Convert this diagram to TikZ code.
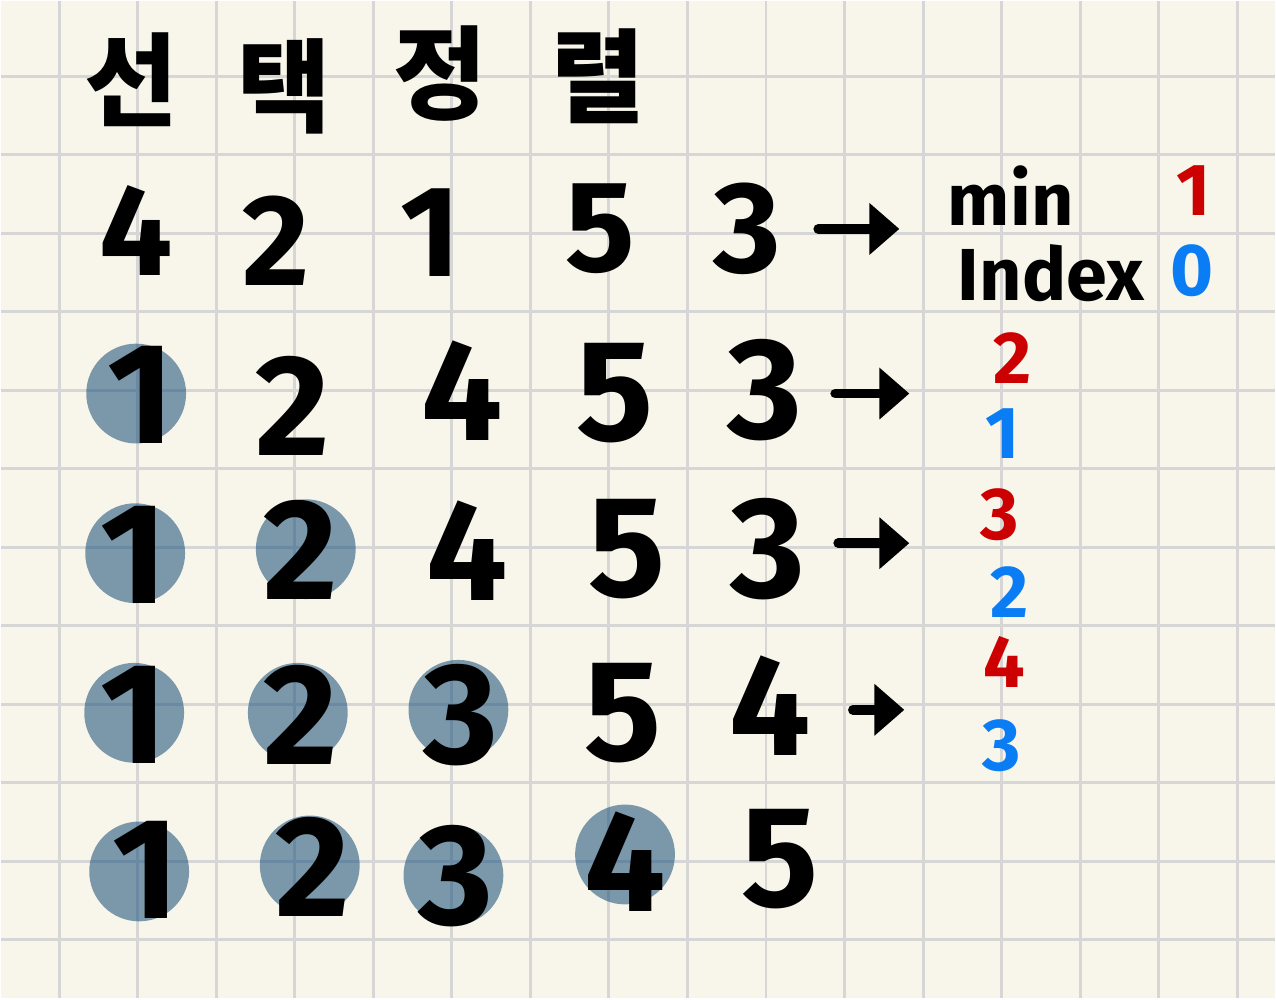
\documentclass[tikz,border=0pt]{standalone}
\usepackage{fontspec}
\usepackage{tikz}
\usetikzlibrary{arrows.meta}
\setmainfont{Fira Sans}
\newfontfamily\krfont{Noto Sans CJK KR}
\definecolor{bgpaper}{rgb}{0.973,0.965,0.918}
\definecolor{gridgray}{rgb}{0.84,0.84,0.845}
\definecolor{hlblue}{rgb}{0.075,0.294,0.467}
\definecolor{penred}{rgb}{0.8,0.,0.}
\definecolor{penblue}{rgb}{0.04,0.49,0.96}

\begin{document}
\begin{tikzpicture}[x=0.01cm,y=-0.01cm,>={Triangle[length=0.3cm,width=0.5cm]},
    gridline/.style={line width=0.85pt,color=gridgray},
    hl/.style={circle,fill=hlblue,fill opacity=0.55,minimum size=1cm,inner sep=0pt},
    rowbig/.style={font=\fontsize{41}{41}\selectfont\bfseries,minimum width=0.8cm,inner sep=0pt},
    rowone/.style={font=\fontsize{37}{37}\selectfont\bfseries,minimum width=0.8cm,inner sep=0pt},
    idx/.style={font=\fontsize{21}{21}\selectfont\bfseries,inner sep=0pt},
    lbl/.style={font=\fontsize{21}{21}\selectfont\bfseries,inner sep=0pt},
    ttl/.style={font=\krfont\bfseries\fontsize{29}{29}\selectfont,inner sep=0pt},
    arr/.style={->,line width=2.8pt,line cap=round,shorten <=0.3cm}]
    \fill[bgpaper] (0,0) rectangle (1276,999);
    \foreach \i in {0,...,15}
        \draw[gridline] ({58+78.7*\i},0) -- ({58+78.7*\i},999);
    \foreach \j in {0,...,11}
        \draw[gridline] (0,{75+78.7*\j}) -- (1276,{75+78.7*\j});

    \node[ttl] (t1) at (130,78) {선};
    \node[ttl] (t2) at (283,85) {택};
    \node[ttl] (t3) at (440,72) {정};
    \node[ttl] (t4) at (598,75) {렬};

    \node[hl] (h21) at (135,393) {};
    \node[hl] (h31) at (134,553) {};
    \node[hl] (h32) at (305,549) {};
    \node[hl] (h41) at (133,713) {};
    \node[hl] (h42) at (297,713) {};
    \node[hl] (h43) at (458,710) {};
    \node[hl] (h51) at (138,872) {};
    \node[hl] (h52) at (309,866) {};
    \node[hl] (h53) at (453,876) {};
    \node[hl] (h54) at (625,855) {};

    \node[rowone] (r1c1) at (135,230) {4};
    \node[rowone] (r1c2) at (275,240) {2};
    \node[rowone] (r1c3) at (430,232) {1};
    \node[rowone] (r1c4) at (600,228) {5};
    \node[rowone] (r1c5) at (748,228) {3};

    \node[rowbig] (r2c1) at (140,394) {1};
    \node[rowbig] (r2c2) at (292,405) {2};
    \node[rowbig] (r2c3) at (462,390) {4};
    \node[rowbig] (r2c4) at (615,393) {5};
    \node[rowbig] (r2c5) at (765,390) {3};

    \node[rowbig] (r3c1) at (133,555) {1};
    \node[rowbig] (r3c2) at (300,550) {2};
    \node[rowbig] (r3c3) at (467,550) {4};
    \node[rowbig] (r3c4) at (627,549) {5};
    \node[rowbig] (r3c5) at (768,549) {3};

    \node[rowbig] (r4c1) at (133,715) {1};
    \node[rowbig] (r4c2) at (300,715) {2};
    \node[rowbig] (r4c3) at (460,715) {3};
    \node[rowbig] (r4c4) at (623,713) {5};
    \node[rowbig] (r4c5) at (770,706) {4};

    \node[rowbig] (r5c1) at (145,870) {1};
    \node[rowbig] (r5c2) at (312,867) {2};
    \node[rowbig] (r5c3) at (455,877) {3};
    \node[rowbig] (r5c4) at (625,862) {4};
    \node[rowbig] (r5c5) at (780,860) {5};

    \node[lbl,anchor=west] (min) at (948,195) {min};
    \node[lbl,anchor=west] (index) at (958,272) {Index};
    \node[idx,penred] (v1) at (1195,190) {1};
    \node[idx,penblue] (i1) at (1193,270) {0};
    \node[idx,penred] (v2) at (1013,357) {2};
    \node[idx,penblue] (i2) at (1003,433) {1};
    \node[idx,penred] (v3) at (1000,514) {3};
    \node[idx,penblue] (i3) at (1010,592) {2};
    \node[idx,penred] (v4) at (1005,662) {4};
    \node[idx,penblue] (i4) at (1003,746) {3};

    \coordinate (a1) at (900,228);
    \coordinate (a2) at (910,393);
    \coordinate (a3) at (910,543);
    \coordinate (a4) at (905,710);
    \draw[arr] (r1c5.east |- a1) -- (a1);
    \draw[arr] (r2c5.east |- a2) -- (a2);
    \draw[arr] (r3c5.east |- a3) -- (a3);
    \draw[arr,shorten <=0.42cm] (r4c5.east |- a4) -- (a4);
\end{tikzpicture}
\end{document}
